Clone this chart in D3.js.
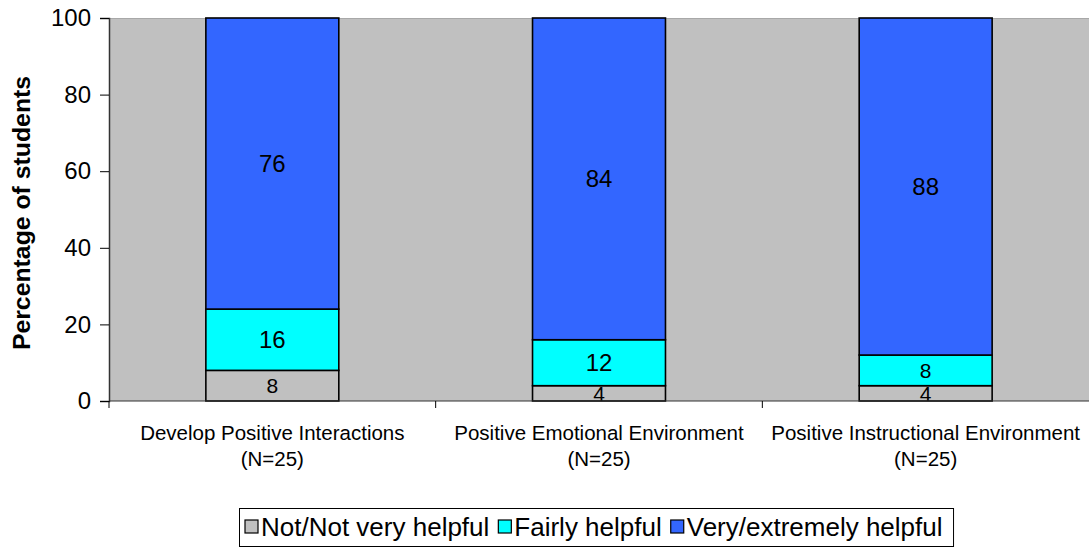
<!DOCTYPE html>
<html><head><meta charset="utf-8">
<script src="https://cdn.jsdelivr.net/npm/d3@7"></script>
<style>body{margin:0;background:#fff;}svg{display:block;font-family:"Liberation Sans",Arial,sans-serif;}</style>
</head><body>
<svg id="chart" width="1089" height="550"></svg>
<script>
const categories = ["Develop Positive Interactions", "Positive Emotional Environment", "Positive Instructional Environment"];
const categorySub = ["(N=25)", "(N=25)", "(N=25)"];
const seriesNames = ["Not/Not very helpful", "Fairly helpful", "Very/extremely helpful"];
const notHelpful = [8, 4, 4];
const fairlyHelpful = [16, 12, 8];
const veryHelpful = [76, 84, 88];
const yTicks = [0, 20, 40, 60, 80, 100];
const colors = ["#C0C0C0", "#00FFFF", "#3366FF"];

const svg = d3.select("#chart");
const m = {left: 109, top: 18, right: 1089, bottom: 401};
const x = d3.scaleBand().domain(categories).range([m.left, m.right]).paddingInner(0.593).paddingOuter(0.2965);
const xOuter = d3.scaleBand().domain(categories).range([m.left, m.right]);
const y = d3.scaleLinear().domain([0, 100]).range([m.bottom, m.top]);

// plot background
svg.append("rect").attr("x", m.left).attr("y", m.top).attr("width", m.right - m.left).attr("height", m.bottom - m.top).attr("fill", "#C0C0C0");
svg.append("line").attr("x1", m.left).attr("x2", m.right).attr("y1", m.top + 0.5).attr("y2", m.top + 0.5).attr("stroke", "#a8a8a8").attr("stroke-width", 1);

const table = categories.map((c, i) => ({cat: c, v: [notHelpful[i], fairlyHelpful[i], veryHelpful[i]]}));
const stack = d3.stack().keys([0, 1, 2]).value((d, k) => d.v[k]);
const layers = stack(table);

layers.forEach((layer, k) => {
  const g = svg.append("g");
  g.selectAll("rect").data(layer).join("rect")
    .attr("x", d => x(d.data.cat))
    .attr("y", d => y(d[1]))
    .attr("width", x.bandwidth())
    .attr("height", d => y(d[0]) - y(d[1]))
    .attr("fill", colors[k])
    .attr("stroke", "#000")
    .attr("stroke-width", 1.6);
});
layers.forEach((layer, k) => {
  svg.append("g").selectAll("text").data(layer).join("text")
    .attr("x", d => x(d.data.cat) + x.bandwidth() / 2)
    .attr("y", d => (y(d[0]) + y(d[1])) / 2)
    .attr("text-anchor", "middle")
    .attr("dominant-baseline", "central")
    .attr("font-size", d => (y(d[0]) - y(d[1])) < 36 ? 21 : 24)
    .attr("fill", "#000")
    .text(d => d.data.v[k]);
});

// y axis
const yAxis = d3.axisLeft(y).tickValues(yTicks).tickSize(9).tickPadding(9);
const ya = svg.append("g").attr("transform", `translate(${m.left},0)`).call(yAxis);
ya.select(".domain").attr("stroke", "#333").attr("stroke-width", 1.5);
ya.selectAll(".tick line").attr("stroke", "#000");
ya.selectAll(".tick text").attr("font-size", 24).attr("font-family", "Liberation Sans, Arial, sans-serif").attr("fill", "#000");

// x axis
const xa = svg.append("g").attr("transform", `translate(0,${m.bottom})`);
xa.append("line").attr("x1", m.left).attr("x2", m.right).attr("stroke", "#333").attr("stroke-width", 1.2);
const bounds = categories.map(c => xOuter(c));
xa.selectAll("line.tk").data(bounds).join("line").attr("class", "tk")
  .attr("x1", d => d).attr("x2", d => d).attr("y1", 0).attr("y2", 7).attr("stroke", "#000");
categories.forEach((c, i) => {
  const cx = xOuter(c) + xOuter.bandwidth() / 2;
  xa.append("text").attr("x", cx).attr("y", 39).attr("text-anchor", "middle").attr("font-size", 20.5).text(c);
  xa.append("text").attr("x", cx).attr("y", 65).attr("text-anchor", "middle").attr("font-size", 20.5).text(categorySub[i]);
});

// y title
svg.append("text").attr("transform", "translate(21,213) rotate(-90)")
  .attr("text-anchor", "middle").attr("dominant-baseline", "central")
  .attr("font-size", 24.8).attr("font-weight", "bold").text("Percentage of students");

// legend
const lg = svg.append("g");
const box = lg.append("rect").attr("fill", "#fff").attr("stroke", "#000").attr("stroke-width", 1);
let lx = 245;
const ly = 527;
seriesNames.forEach((s, k) => {
  lg.append("rect").attr("x", lx).attr("y", ly - 7).attr("width", 13).attr("height", 13)
    .attr("fill", colors[k]).attr("stroke", "#000").attr("stroke-width", 1.2);
  const t = lg.append("text").attr("x", lx + 16).attr("y", ly).attr("dominant-baseline", "central")
    .attr("font-size", 26).text(s);
  lx += 16 + t.node().getComputedTextLength() + 9;
});
box.attr("x", 239.5).attr("y", 508.5).attr("width", lx - 239.5 + 2).attr("height", 38);
</script>
</body></html>
